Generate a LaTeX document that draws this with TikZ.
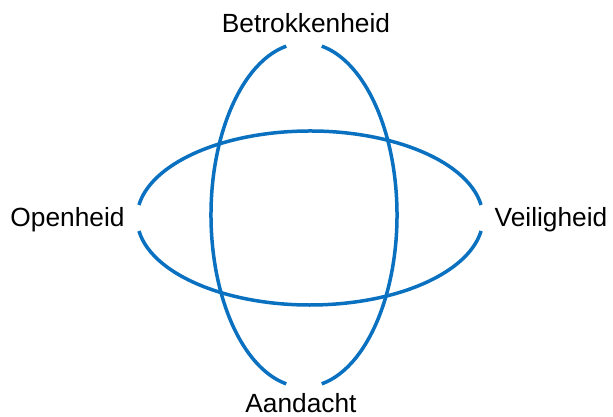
\documentclass[tikz,border=0pt]{standalone}
\usepackage{fontspec}
\setmainfont{Liberation Sans}
\definecolor{lusBlauw}{HTML}{0A70C0}
\usetikzlibrary{positioning}
\tikzset{
	lus/.style={
		draw=lusBlauw,
		line width=3.5pt
	},
	begrip/.style={
		inner sep=0pt,
		anchor=base,
		font=\fontsize{26.3}{30}\selectfont
	}
}
\begin{document}
\begin{tikzpicture}[x=1pt,y=1pt]
		\useasboundingbox (0,0) rectangle (613,417);
		% centres of both ellipses
		\coordinate (staand) at (304,202);
		\coordinate (liggend) at (310,199);
		% upright ellipse, open at top and bottom
		\draw[lus] (staand) ++(101:93 and 172) arc[start angle=101, end angle=259, x radius=93, y radius=172];
		\draw[lus] (staand) ++(281:93 and 172) arc[start angle=281, end angle=439, x radius=93, y radius=172];
		% flat ellipse, open left and right
		\draw[lus] (liggend) ++(8.6:173 and 87) arc[start angle=8.6, end angle=171.4, x radius=173, y radius=87];
		\draw[lus] (liggend) ++(188.6:173 and 87) arc[start angle=188.6, end angle=351.4, x radius=173, y radius=87];
		\node[begrip] (betrokken) at (306,384) {Betrokkenheid};
		\node[begrip] (aandacht) at (301,4) {Aandacht};
		\node[begrip] (open) at (67.5,190) {Openheid};
		\node[begrip] (veilig) at (551,190) {Veiligheid};
	\end{tikzpicture}
\end{document}
